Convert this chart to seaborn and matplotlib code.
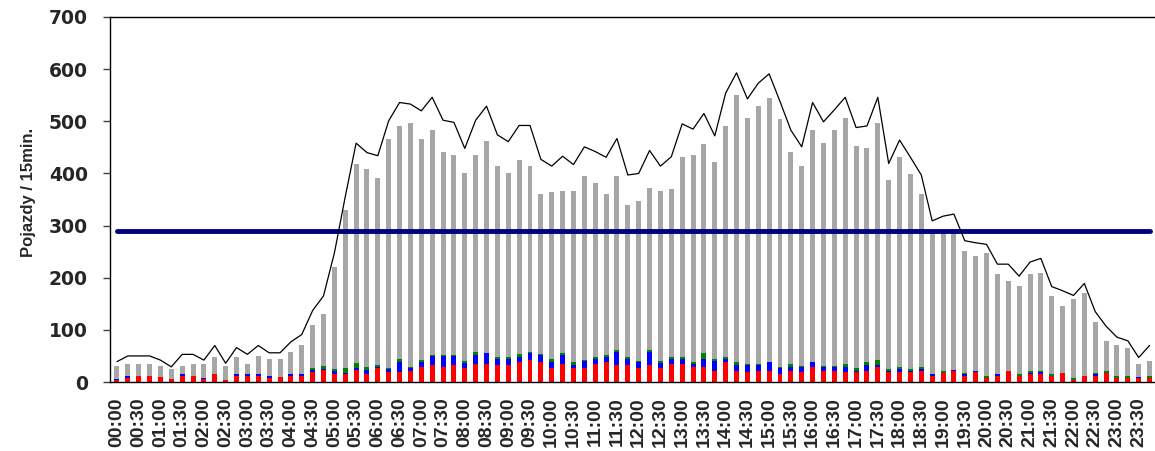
import numpy as np
import pandas as pd
import matplotlib
matplotlib.use("Agg")
import matplotlib.pyplot as plt
import seaborn as sns

# 15-minute slots over one day
slots = [f"{h:02d}:{m:02d}" for h in range(24) for m in (0, 15, 30, 45)]

# height of whole bar (grey top)
bar_total = [31, 34, 34, 34, 31, 24, 31, 34, 34, 47, 31, 47, 34, 50, 44, 44,
             58, 71, 109, 130, 221, 330, 418, 408, 391, 466, 490, 496, 466, 483, 442, 435,
             401, 435, 462, 415, 401, 425, 415, 361, 364, 367, 367, 395, 381, 361, 395, 339,
             347, 373, 367, 370, 432, 435, 456, 421, 490, 550, 507, 530, 544, 504, 442, 415,
             483, 459, 483, 507, 453, 449, 496, 387, 432, 398, 361, 288, 290, 292, 252, 242,
             248, 207, 194, 184, 207, 210, 164, 146, 159, 170, 116, 79, 71, 65, 34, 40]

# black line
line_total = [39, 50, 50, 50, 42, 29, 53, 53, 42, 70, 36, 66, 53, 70, 56, 56,
              77, 91, 137, 165, 247, 355, 458, 440, 434, 501, 536, 533, 520, 546, 502, 498,
              448, 502, 529, 474, 461, 492, 492, 427, 414, 433, 417, 451, 442, 431, 467, 397,
              400, 444, 414, 432, 495, 485, 515, 472, 554, 593, 543, 573, 591, 538, 483, 451,
              536, 499, 522, 546, 488, 491, 546, 419, 464, 431, 397, 309, 318, 322, 271, 267,
              264, 226, 226, 203, 230, 237, 183, 175, 166, 189, 135, 107, 86, 79, 47, 70]

red = [4, 8, 12, 12, 9, 5, 12, 12, 5, 15, 4, 12, 12, 12, 8, 9,
       12, 12, 20, 23, 15, 15, 23, 15, 26, 19, 19, 22, 29, 32, 29, 32,
       26, 35, 35, 32, 32, 38, 42, 38, 26, 35, 27, 27, 35, 38, 32, 32,
       27, 32, 26, 35, 35, 29, 29, 22, 38, 22, 19, 22, 22, 16, 22, 19,
       29, 22, 22, 19, 19, 22, 29, 19, 19, 19, 22, 12, 18, 22, 12, 19,
       8, 12, 22, 12, 15, 16, 12, 18, 4, 12, 12, 18, 8, 8, 8, 8]

blue = [1, 3, 0, 0, 0, 0, 3, 0, 2, 0, 0, 3, 3, 3, 3, 0,
        3, 3, 3, 1, 7, 3, 3, 8, 3, 5, 19, 5, 10, 17, 20, 17,
        10, 17, 20, 13, 13, 10, 13, 13, 13, 17, 6, 13, 10, 10, 26, 13,
        11, 26, 10, 10, 10, 6, 16, 19, 6, 10, 13, 10, 16, 10, 6, 10,
        10, 6, 6, 10, 3, 10, 3, 3, 6, 3, 3, 3, 0, 1, 3, 3,
        0, 3, 0, 0, 3, 3, 0, 0, 0, 0, 3, 0, 0, 0, 1, 0]

green = [0, 0, 0, 0, 0, 0, 0, 0, 0, 0, 0, 0, 0, 0, 0, 0,
         0, 0, 3, 6, 3, 8, 10, 5, 3, 3, 6, 2, 3, 3, 3, 3,
         4, 6, 1, 2, 3, 6, 3, 3, 6, 3, 5, 3, 3, 3, 3, 3,
         3, 3, 4, 3, 3, 3, 10, 3, 3, 6, 3, 3, 1, 3, 6, 2,
         0, 2, 2, 6, 5, 6, 10, 3, 3, 3, 3, 0, 3, 0, 3, 0,
         3, 0, 0, 4, 3, 3, 3, 0, 4, 0, 3, 4, 3, 3, 0, 3]

threshold = 290

df = pd.DataFrame({"slot": slots, "pos": np.arange(len(slots)),
                   "total": bar_total, "line": line_total,
                   "red": red, "blue": blue, "green": green})
df["rbg"] = df["red"] + df["blue"] + df["green"]
df["rb"] = df["red"] + df["blue"]
df["thr"] = threshold

sns.set_style("white")
plt.rcParams["font.family"] = ["Liberation Sans", "DejaVu Sans"]

fig = plt.figure(figsize=(11.55, 4.51), dpi=100)
ax = fig.add_axes([110 / 1155, 1 - 382 / 451, 1 - 110 / 1155, (382 - 17) / 451])

# overlay bars from tallest to shortest to get the stacked look
for col, colour in [("total", "#a6a6a6"), ("rbg", "#008000"),
                    ("rb", "#0000ff"), ("red", "#ff0000")]:
    sns.barplot(data=df, x="pos", y=col, color=colour, native_scale=True,
                width=0.46, saturation=1, linewidth=0, errorbar=None, ax=ax)

sns.lineplot(data=df, x="pos", y="thr", color="#000080", linewidth=3.5,
             solid_capstyle="round", ax=ax)
sns.lineplot(data=df, x="pos", y="line", color="black", linewidth=0.9, ax=ax)

ax.set_xlim(-0.64, 94.62)
ax.set_ylim(0, 700)
ax.set_yticks(range(0, 701, 100))
ax.set_xticks(df["pos"][::2])
ax.set_xticklabels(df["slot"][::2], rotation=90, fontsize=14, fontweight="bold")
ax.set_xticks(np.arange(-0.5, 96, 1), minor=True)
ax.tick_params(axis="x", which="major", length=0, pad=11)
ax.tick_params(axis="x", which="minor", direction="inout", length=9, width=0.8, color="black")
ax.tick_params(axis="y", which="major", direction="out", length=5, width=1,
               color="#404040", pad=11, left=True)
for t in ax.get_yticklabels():
    t.set_fontfamily("DejaVu Sans")
    t.set_fontweight("bold")
    t.set_fontsize(13.5)

ax.set_xlabel("")
ax.set_ylabel("Pojazdy / 15min.", fontsize=12, fontweight="bold")
ax.yaxis.set_label_coords(-0.071, 0.52)

for side in ["top", "left", "bottom"]:
    ax.spines[side].set_color("black")
    ax.spines[side].set_linewidth(1)
ax.spines["right"].set_visible(False)

fig.savefig("out.png", dpi=100)
